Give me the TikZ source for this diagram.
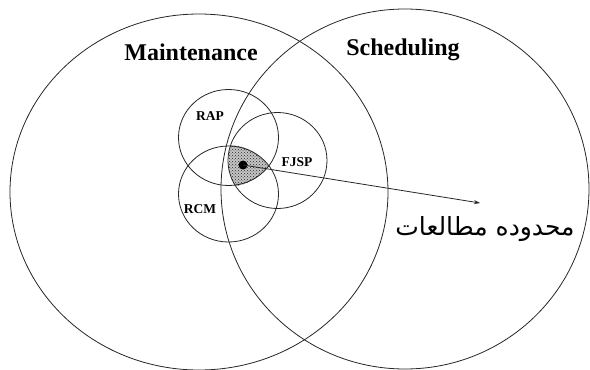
\documentclass[tikz,border=0pt]{standalone}
\usepackage{fontspec}
\setmainfont{Liberation Serif}
\newfontfamily\arabicfont[Script=Arabic]{DejaVu Sans}
\TeXXeTstate=1
\usetikzlibrary{arrows.meta,patterns,shapes.geometric}
\begin{document}
\begin{tikzpicture}[x=1pt,y=-1pt,
  ring/.style={draw=black!85,line width=0.8pt,ellipse,inner sep=0pt},
  bigtitle/.style={font=\fontsize{24}{28}\selectfont\bfseries,inner sep=0pt,anchor=base},
  smalltitle/.style={font=\fontsize{13.5}{16}\selectfont\bfseries,inner sep=0pt},
  hub/.style={circle,fill=black,inner sep=0pt,minimum size=9pt}]
\useasboundingbox (0,0) rectangle (590,370);
% big sets
\node[ring,minimum width=378pt,minimum height=356pt] (maint) at (199,192) {};
\node[ring,minimum width=368pt,minimum height=360pt] (sched) at (405,189) {};
% shaded intersection
\begin{scope}
  \clip (228.5,137.5) circle[radius=49];
  \clip (277.5,160.5) circle[radius=49];
  \fill[gray!45] (228.5,194) circle[radius=49];
  \fill[pattern=crosshatch dots,pattern color=black!85] (228.5,194) circle[radius=49];
\end{scope}
% small sets
\node[ring,minimum width=100pt,minimum height=96pt] (rap) at (228.5,137.5) {};
\node[ring,minimum width=99pt,minimum height=96pt] (fjsp) at (277.5,160.5) {};
\node[ring,minimum width=100pt,minimum height=96pt] (rcm) at (228.5,194) {};
% labels
\node[bigtitle] (tm) at (191,60) {Maintenance};
\node[bigtitle] (ts) at (403,55) {Scheduling};
\node[smalltitle] (lrap) at (210,116) {RAP};
\node[smalltitle] (lfjsp) at (297,162) {FJSP};
\node[smalltitle] (lrcm) at (200,209) {RCM};
% pointer
\node[hub] (dot) at (243,165) {};
\coordinate (tip) at (480,203);
\draw[black!85,line width=0.8pt,-{Stealth[length=6pt,width=4pt]}] (dot.center) -- (tip);
\node[font=\fontsize{25}{30}\selectfont\arabicfont,inner sep=0pt] (study) at (485,229) {\beginR محدوده مطالعات\endR};
\end{tikzpicture}
\end{document}
